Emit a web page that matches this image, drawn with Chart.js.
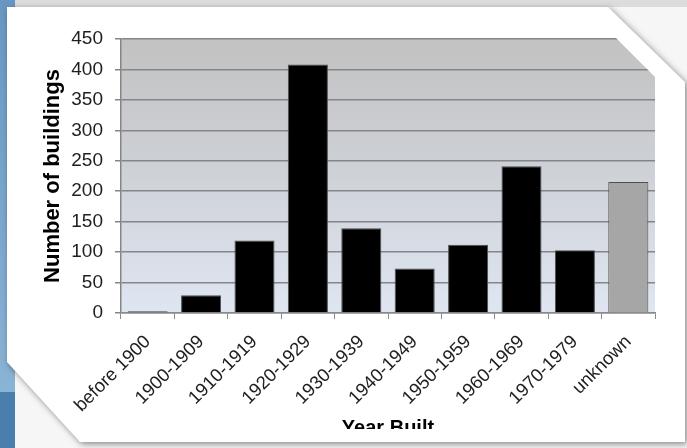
<!DOCTYPE html>
<html>
<head>
<meta charset="utf-8">
<script src="https://cdn.jsdelivr.net/npm/chart.js@4.4.0/dist/chart.umd.min.js"></script>
<style>
  html, body { margin: 0; padding: 0; background: #f6f6f6; overflow: hidden; }
  canvas { display: block; }
</style>
</head>
<body>
<canvas id="chart" width="687" height="448"></canvas>
<script>
// Buildings by construction period
const categories = ['before 1900', '1900-1909', '1910-1919', '1920-1929', '1930-1939',
                    '1940-1949', '1950-1959', '1960-1969', '1970-1979', 'unknown'];
const buildingCounts = [3, 29, 119, 408, 139, 73, 112, 241, 103, 215];
const barFills = ['#000000', '#000000', '#000000', '#000000', '#000000',
                  '#000000', '#000000', '#000000', '#000000', '#a6a6a6'];
const yAxisMin = 0;
const yAxisMax = 450;
const yAxisStep = 50;

const FONT = "'Liberation Sans', Arial, sans-serif";
const CORNER = 38; // size of the clipped top-right corner of the plot

// Slide backdrop, white card with clipped corners, and the graded plot area
const backdrop = {
  id: 'backdrop',
  beforeDraw(chart) {
    const ctx = chart.ctx;
    const W = chart.width, H = chart.height;
    ctx.save();
    ctx.fillStyle = '#f6f6f6';
    ctx.fillRect(0, 0, W, H);
    ctx.fillStyle = '#dcdcdc';
    ctx.fillRect(0, 0, W, 7);

    const blue = ctx.createLinearGradient(0, 0, 0, 392);
    blue.addColorStop(0, '#6897c2');
    blue.addColorStop(1, '#8ab4d6');
    ctx.fillStyle = blue;
    ctx.fillRect(0, 0, 15, 392);
    ctx.fillStyle = '#4a7fad';
    ctx.fillRect(0, 392, 15, H - 392);

    ctx.beginPath();
    ctx.moveTo(7, 7);
    ctx.lineTo(608, 7);
    ctx.lineTo(685, 82);
    ctx.lineTo(685, 442);
    ctx.lineTo(80, 442);
    ctx.lineTo(7, 362);
    ctx.closePath();
    ctx.shadowColor = 'rgba(0,0,0,0.45)';
    ctx.shadowBlur = 6;
    ctx.shadowOffsetX = 2;
    ctx.shadowOffsetY = 2;
    ctx.fillStyle = '#ffffff';
    ctx.fill();
    ctx.restore();

    const a = chart.chartArea;
    ctx.save();
    const g = ctx.createLinearGradient(0, a.top, 0, a.bottom);
    g.addColorStop(0, '#c2c2c2');
    g.addColorStop(0.45, '#cdd0d6');
    g.addColorStop(1, '#dfe6f2');
    ctx.beginPath();
    ctx.moveTo(a.left, a.top);
    ctx.lineTo(a.right - CORNER, a.top);
    ctx.lineTo(a.right, a.top + CORNER);
    ctx.lineTo(a.right, a.bottom);
    ctx.lineTo(a.left, a.bottom);
    ctx.closePath();
    ctx.fillStyle = g;
    ctx.fill();
    ctx.restore();

    // keep the grid out of the clipped corner while the scales are drawn
    ctx.save();
    ctx.beginPath();
    ctx.rect(0, 0, W, H);
    ctx.moveTo(a.right - CORNER - 4, a.top - 4);
    ctx.lineTo(a.right + 4, a.top - 4);
    ctx.lineTo(a.right + 4, a.top + CORNER + 4);
    ctx.closePath();
    ctx.clip('evenodd');
  },
  beforeDatasetsDraw(chart) {
    chart.ctx.restore();
  },
  afterDraw(chart) {
    // the card cuts off the lower part of the axis title
    const ctx = chart.ctx;
    ctx.save();
    ctx.fillStyle = '#ffffff';
    ctx.fillRect(100, 429, 580, 12.5);
    ctx.restore();
  }
};

new Chart(document.getElementById('chart'), {
  type: 'bar',
  data: {
    labels: categories,
    datasets: [{
      data: buildingCounts,
      backgroundColor: barFills,
      borderColor: '#4f4f4f',
      borderWidth: 1,
      barPercentage: 0.75,
      categoryPercentage: 1
    }]
  },
  plugins: [backdrop],
  options: {
    responsive: false,
    animation: false,
    devicePixelRatio: 1,
    layout: { padding: { top: 39, right: 32, left: 0, bottom: 0 } },
    plugins: {
      legend: { display: false },
      tooltip: { enabled: false }
    },
    scales: {
      x: {
        offset: true,
        grid: { display: true, drawOnChartArea: false, drawTicks: true, tickLength: 6, color: '#8a8a8a', lineWidth: 1 },
        border: { display: true, color: '#8a8a8a', width: 1.5 },
        ticks: { color: '#1e1e1e', font: { family: FONT, size: 18.5 }, minRotation: 45, maxRotation: 45, padding: 12, autoSkip: false },
        title: { display: true, text: 'Year Built', color: '#000000', font: { family: FONT, size: 20, weight: 'bold' }, padding: { top: 0, bottom: 8 } },
        afterFit(scale) { scale.height = 135; }
      },
      y: {
        min: yAxisMin,
        max: yAxisMax,
        ticks: { stepSize: yAxisStep, color: '#1e1e1e', font: { family: FONT, size: 19 }, padding: 12 },
        grid: { color: '#858585', lineWidth: 1.5, tickLength: 6, drawTicks: true },
        border: { display: true, color: '#858585', width: 1.5 },
        title: { display: true, text: 'Number of buildings', color: '#000000', font: { family: FONT, size: 22, weight: 'bold' }, padding: { top: 40, bottom: 0 } },
        afterFit(scale) { scale.width = 121; }
      }
    }
  }
});
</script>
</body>
</html>
